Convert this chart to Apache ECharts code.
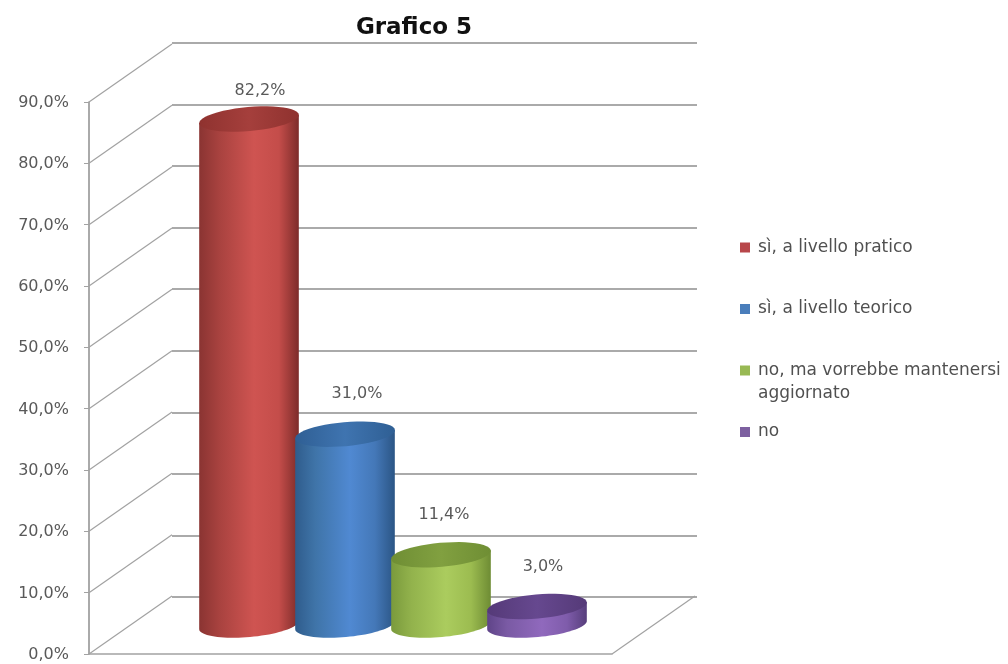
<!DOCTYPE html>
<html><head><meta charset="utf-8">
<style>html,body{margin:0;padding:0;background:#fff}#c{width:1008px;height:664px}</style>
<script src="https://cdn.jsdelivr.net/npm/echarts@6/dist/echarts.min.js"></script>
</head><body><div id="c"></div>
<script>
const categories = ['sì, a livello pratico','sì, a livello teorico','no, ma vorrebbe mantenersi','no'];
const values = [82.2, 31.0, 11.4, 3.0];
const yTicks = [0,10,20,30,40,50,60,70,80,90];
const titleText = 'Grafico 5';
const legendContinuation = 'aggiornato';

const FONT = '"DejaVu Sans"';
const DEPTH = [83, -58];
const RX = 50, RY = 12, TILT = -5 * Math.PI / 180;
const labelShift = [[11,-28],[12,-40],[3,-40],[6,-40]];
const palettes = [
  {solid:'#b8474a', cap:['#a53f3c','#8f322f'], body:['#8a3432','#a8423f','#cf5451','#c44d4a','#7d2c2a']},
  {solid:'#4a7ebb', cap:['#3f74b0','#2f5f94'], body:['#2f5c8c','#3f74a8','#5089d2','#4478b8','#2b5585']},
  {solid:'#98b954', cap:['#81a040','#6f8e34'], body:['#7a9a3c','#92b24c','#abcc5e','#9cbc50','#6e8c34']},
  {solid:'#7d60a0', cap:['#66488f','#553a78'], body:['#5f4488','#7a5aa4','#9069bd','#7f5cab','#573e7c']}
];

function ellipsePt(cx, cy, t){
  const x = RX * Math.cos(t), y = RY * Math.sin(t);
  return [cx + x*Math.cos(TILT) - y*Math.sin(TILT), cy + x*Math.sin(TILT) + y*Math.cos(TILT)];
}
function cylinder(i){
  return function(params, api){
    const top = api.coord([api.value(0), api.value(1)]);
    const base = api.coord([api.value(0), 0]);
    const body = [];
    body.push(ellipsePt(top[0], top[1], Math.PI));
    for(let k=0;k<=40;k++) body.push(ellipsePt(base[0], base[1], Math.PI - Math.PI*k/40));
    body.push(ellipsePt(top[0], top[1], 0));
    const p = palettes[i];
    const grad = new echarts.graphic.LinearGradient(0,0,1,0,[
      {offset:0,color:p.body[0]},{offset:0.2,color:p.body[1]},{offset:0.55,color:p.body[2]},{offset:0.8,color:p.body[3]},{offset:1,color:p.body[4]}]);
    const capGrad = new echarts.graphic.LinearGradient(0,0,1,0,[{offset:0,color:p.cap[1]},{offset:0.5,color:p.cap[0]},{offset:1,color:p.cap[1]}]);
    const capPts = [];
    for(let k=0;k<48;k++) capPts.push(ellipsePt(top[0], top[1], 2*Math.PI*k/48));
    const txt = api.value(1).toFixed(1).replace('.',',') + '%';
    return {type:'group', children:[
      {type:'polygon', shape:{points:body}, style:{fill:grad}},
      {type:'polygon', shape:{points:capPts}, style:{fill:capGrad}},
      {type:'text', style:{text:txt, x:top[0]+labelShift[i][0], y:top[1]+labelShift[i][1], align:'center', verticalAlign:'middle',
        fontFamily:FONT, fontSize:16, fill:'#595959'}}
    ]};
  };
}
function depthLines(params, api){
  const a = api.coord([api.value(0), api.value(1)]);
  return {type:'line', shape:{x1:a[0],y1:a[1],x2:a[0]+DEPTH[0],y2:a[1]+DEPTH[1]}, style:{stroke:'#a2a2a2', lineWidth:1.2}};
}
const depthData = yTicks.map(v => [0, v]).concat([[1, 0]]);

const option = {
  animation:false,
  backgroundColor:'#fff',
  title:{text:titleText, left:409, textAlign:'center', top:12,
    textStyle:{fontFamily:FONT, fontWeight:'bold', fontSize:23, color:'#111'}},
  legend:{orient:'vertical', left:735, top:234, itemWidth:10, itemHeight:10, itemGap:44.5, icon:'rect',
    data:categories, textStyle:{fontFamily:FONT, fontSize:17, color:'#505050', lineHeight:16, padding:[0,0,0,3]}},
  graphic:[{type:'text', left:758, top:385, style:{text:legendContinuation, fontFamily:FONT, fontSize:17, fill:'#505050'}}],
  grid:[
    {left:89, right:396, top:102, bottom:10},
    {left:172, right:311, top:43, bottom:67},
    {left:201, width:384, top:71, bottom:39}
  ],
  xAxis:[
    {gridIndex:0, type:'value', min:0, max:1, axisLabel:{show:false}, axisTick:{show:false}, splitLine:{show:false},
      axisLine:{show:true, lineStyle:{color:'#a2a2a2', width:1.5}}},
    {gridIndex:1, type:'value', min:0, max:1, show:false},
    {gridIndex:2, type:'category', data:categories, show:false}
  ],
  yAxis:[
    {gridIndex:0, type:'value', min:0, max:90, interval:10, splitLine:{show:false},
      axisLine:{show:true, lineStyle:{color:'#8e8e8e', width:1.5}},
      axisTick:{show:true, length:5, lineStyle:{color:'#a2a2a2'}},
      axisLabel:{margin:20, fontFamily:FONT, fontSize:16, color:'#595959', verticalAlign:'top', lineHeight:2, formatter:v => v + ',0%'}},
    {gridIndex:1, type:'value', min:0, max:90, interval:10, axisLabel:{show:false}, axisTick:{show:false}, axisLine:{show:false},
      splitLine:{show:true, lineStyle:{color:'#8e8e8e', width:1.5}}},
    {gridIndex:2, type:'value', min:0, max:90, show:false, splitLine:{show:false}}
  ],
  series:[
    {type:'custom', name:'_depth', xAxisIndex:0, yAxisIndex:0, data:depthData, renderItem:depthLines, silent:true, z:1}
  ].concat(categories.map((c,i)=>({
    type:'custom', name:c, xAxisIndex:2, yAxisIndex:2, z:5+i, silent:true,
    itemStyle:{color:palettes[i].solid},
    data:[[i, values[i]]], renderItem:cylinder(i), clip:false
  })))
};
echarts.init(document.getElementById('c'), null, {renderer:'canvas'}).setOption(option);
</script></body></html>
